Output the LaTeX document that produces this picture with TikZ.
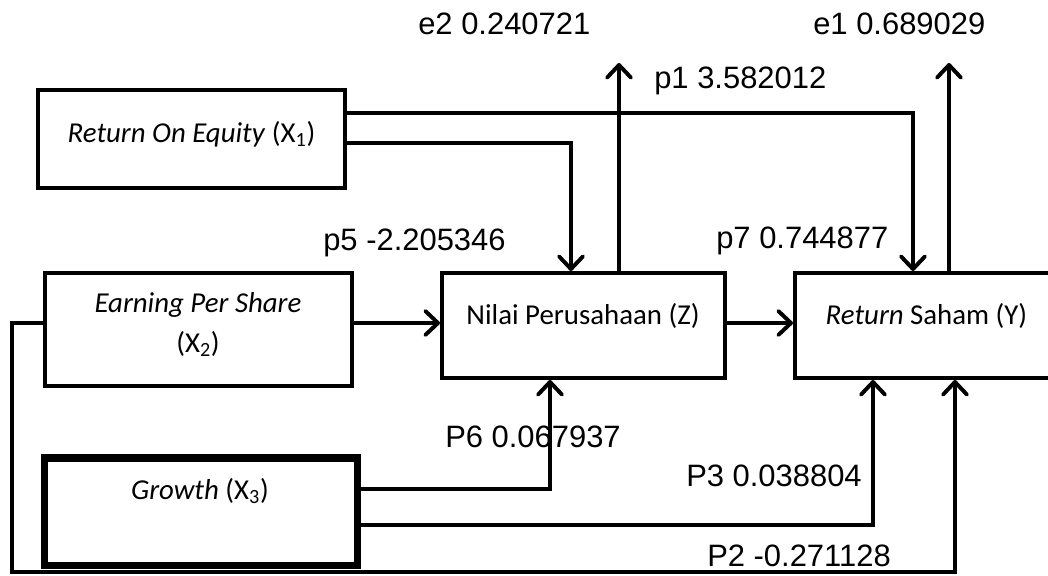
\documentclass[tikz,border=0pt]{standalone}
\usepackage{fontspec}
\setmainfont{Carlito}
\newfontfamily\lblfont{Liberation Sans}
\usetikzlibrary{arrows.meta}

\tikzset{
    box/.style={draw, rectangle, line width=2.8pt, inner sep=0pt},
    boxtxt/.style={font=\fontsize{20.5}{28}\selectfont, inner sep=0pt, anchor=base},
    lbl/.style={font=\lblfont\fontsize{22}{26}\selectfont, inner sep=0pt, anchor=base west},
    arr/.style={line width=2.8pt, -{Straight Barb[length=9pt,width=17pt,round]}}
}

\begin{document}
\begin{tikzpicture}[x=0.025cm, y=-0.025cm]
    \useasboundingbox (0,0) rectangle (1048,575);
    \fill[white] (0,0) rectangle (1048,575);

    \node[box, minimum width=7.675cm, minimum height=2.45cm] (roe) at (191.5,139) {};
    \node[box, minimum width=7.675cm, minimum height=2.825cm] (eps) at (198.5,329.5) {};
    \node[box, line width=5pt, minimum width=7.8cm, minimum height=2.675cm] (gro) at (201,511.5) {};
    \node[box, minimum width=7.075cm, minimum height=2.625cm] (nil) at (583.5,325.5) {};
    \node[box, minimum width=6.575cm, minimum height=2.625cm] (ret) at (926.5,325.5) {};

    \node[boxtxt] (roetxt) at (191.5,142) {\textit{Return On Equity} (X\textsubscript{1})};
    \node[boxtxt, align=center] (epstxt) at (198,352) {\textit{Earning Per Share}\\(X\textsubscript{2})};
    \node[boxtxt] (grotxt) at (200,499) {\textit{Growth} (X\textsubscript{3})};
    \node[boxtxt] (niltxt) at (583,324) {Nilai Perusahaan (Z)};
    \node[boxtxt] (rettxt) at (926.5,324) {\textit{Return} Saham (Y)};

    \coordinate (k1) at (913,113);
    \coordinate (k2) at (571,143);
    \coordinate (k3) at (0,323);
    \coordinate (k4) at (550,489);
    \coordinate (k5) at (873,525);
    \coordinate (e2top) at (619,63);
    \coordinate (e1top) at (949,63);
    \coordinate (lp) at (12,572);
    \coordinate (lq) at (955,572);

    \draw[arr] (roe.east |- k1) -| (ret.north -| k1);
    \draw[arr] (roe.east |- k2) -| (nil.north -| k2);
    \draw[arr] (eps.east |- k3) -- (nil.west |- k3);
    \draw[arr] (nil.east |- k3) -- (ret.west |- k3);
    \draw[arr] (nil.north -| e2top) -- (e2top);
    \draw[arr] (ret.north -| e1top) -- (e1top);
    \draw[arr] (gro.east |- k4) -| (nil.south -| k4);
    \draw[arr] (gro.east |- k5) -| (ret.south -| k5);
    \draw[arr] (eps.west |- k3) -| (lp) -| (ret.south -| lq);

    \node[lbl] (e2) at (418,34) {e2 0.240721};
    \node[lbl] (e1) at (813,34) {e1 0.689029};
    \node[lbl] (p1) at (654,88) {p1 3.582012};
    \node[lbl] (p5) at (323,250) {p5 -2.205346};
    \node[lbl] (p7) at (716,248) {p7 0.744877};
    \node[lbl] (p6) at (445,447) {P6 0.067937};
    \node[lbl] (p3) at (686,486) {P3 0.038804};
    \node[lbl] (p2) at (707,566) {P2 -0.271128};
\end{tikzpicture}
\end{document}
